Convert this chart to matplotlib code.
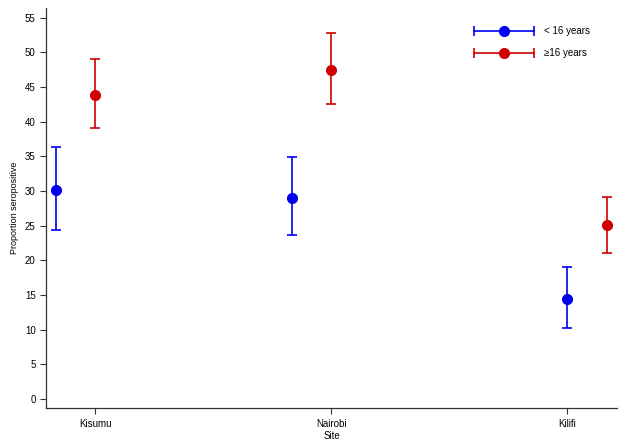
import matplotlib.pyplot as plt

plt.rcParams['font.family'] = ['Liberation Sans', 'DejaVu Sans']

sites = ['Kisumu', 'Nairobi', 'Kilifi']

# x shift of each group relative to its site tick (in site units)
young_shift = [-0.166, -0.166, 0.0]
old_shift = [0.0, 0.0, 0.17]

young_est = [30.1, 29.0, 14.4]
young_lo = [24.4, 23.6, 10.3]
young_hi = [36.3, 34.9, 19.1]

old_est = [43.8, 47.5, 25.1]
old_lo = [39.1, 42.6, 21.1]
old_hi = [49.0, 52.8, 29.2]

blue = '#0000f0'
red = '#d00000'

fig = plt.figure(figsize=(6.25, 4.46), dpi=100)
ax = fig.add_axes([0.0736, 0.085, 0.9134, 0.897])

pos = range(1, len(sites) + 1)

def draw(shift, est, lo, hi, color):
    x = [p + s for p, s in zip(pos, shift)]
    err = [[e - l for e, l in zip(est, lo)], [h - e for e, h in zip(est, hi)]]
    ax.errorbar(x, est, yerr=err, fmt='o', color=color, ecolor=color,
                markersize=7, elinewidth=1.2, capsize=3.4, capthick=1.2)

draw(young_shift, young_est, young_lo, young_hi, blue)
draw(old_shift, old_est, old_lo, old_hi, red)

ax.set_xlim(0.792, 3.21)
ax.set_ylim(-1.3, 56.4)
ax.set_xticks(list(pos))
ax.set_xticklabels(sites)
ax.set_yticks(range(0, 56, 5))
ax.set_xlabel('Site', fontsize=7, labelpad=2)
ax.set_ylabel('Proportion seropositive', fontsize=6.5, labelpad=4)
ax.tick_params(labelsize=7, length=4.5, width=0.8, color='#333333', pad=3)
for side in ['top', 'right']:
    ax.spines[side].set_visible(False)
for side in ['left', 'bottom']:
    ax.spines[side].set_linewidth(0.9)
    ax.spines[side].set_color('#333333')

# legend drawn as horizontal error bars, like the original
legend_items = [('< 16 years', blue, 0.9425), ('\u226516 years', red, 0.8875)]
for label, color, y in legend_items:
    ax.plot([0.75, 0.855], [y, y], color=color, lw=1.2, marker='|',
            markersize=7, mew=1.2, transform=ax.transAxes, clip_on=False)
    ax.plot([0.8025], [y], 'o', color=color, markersize=7,
            transform=ax.transAxes, clip_on=False)
    ax.text(0.872, y, label, fontsize=7, va='center', transform=ax.transAxes)

fig.savefig('out.png', dpi=100)
